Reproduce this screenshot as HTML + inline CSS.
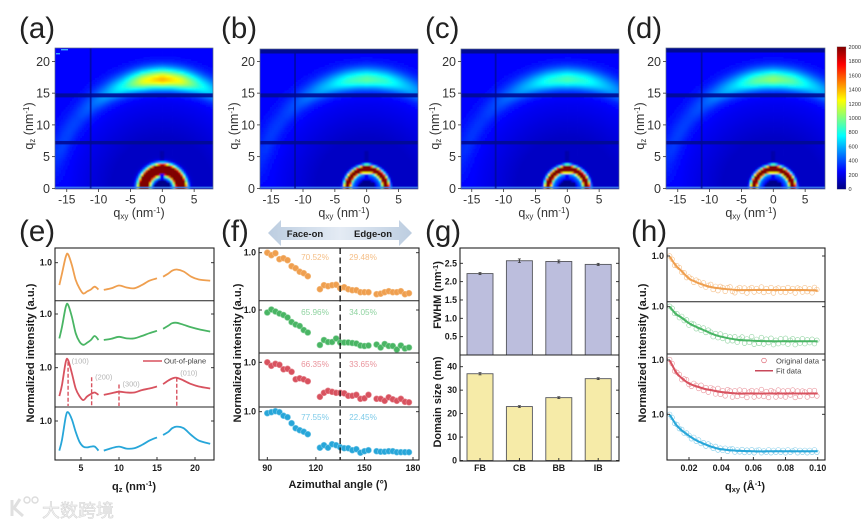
<!DOCTYPE html>
<html lang="en">
<head>
<meta charset="utf-8">
<title>GIWAXS multi-panel figure</title>
<style>
html,body{margin:0;padding:0;background:#fff;width:865px;height:525px;overflow:hidden}
svg{display:block;font-family:"Liberation Sans","Noto Sans CJK SC",sans-serif;filter:blur(.3px)}
.bl{font-weight:700;fill:#1c1c1c}
.rg{fill:#333}
.let{font-size:29.5px;fill:#222}
</style>
</head>
<body>
<svg id="fig" width="865" height="525" viewBox="0 0 865 525" xmlns="http://www.w3.org/2000/svg">
<defs>
<filter id="soft" x="-5%" y="-5%" width="110%" height="110%"><feGaussianBlur stdDeviation="0.8"/></filter>
<linearGradient id="cbar" x1="0" y1="1" x2="0" y2="0">
<stop offset="0" stop-color="#00007f"/><stop offset=".125" stop-color="#0000ff"/><stop offset=".375" stop-color="#00ffff"/><stop offset=".625" stop-color="#ffff00"/><stop offset=".875" stop-color="#ff0000"/><stop offset="1" stop-color="#7f0000"/>
</linearGradient>
<linearGradient id="arrowfill" x1="0" y1="0" x2="1" y2="0">
<stop offset="0" stop-color="#bccde0"/><stop offset=".5" stop-color="#e4ebf4"/><stop offset="1" stop-color="#bccde0"/>
</linearGradient>
<clipPath id="clip-a"><rect x="55" y="48" width="158" height="141"/></clipPath>
<clipPath id="clip-b"><rect x="260" y="49" width="158" height="140"/></clipPath>
<clipPath id="clip-c"><rect x="461" y="49" width="158" height="140"/></clipPath>
<clipPath id="clip-d"><rect x="666" y="48" width="159" height="141"/></clipPath>
</defs>
<g id="plot-layer"></g>

<g>
<text class="let" x="19" y="38">(a)</text>
<text class="let" x="221" y="38">(b)</text>
<text class="let" x="425" y="38">(c)</text>
<text class="let" x="626" y="38">(d)</text>
<text class="let" x="19" y="241">(e)</text>
<text class="let" x="221" y="241">(f)</text>
<text class="let" x="425" y="241">(g)</text>
<text class="let" x="631" y="241">(h)</text>
</g>

<g class="rg" font-size="12.5" text-anchor="middle">
<text x="139" y="217">q<tspan font-size="8" dy="2">xy</tspan><tspan dy="-2"> (nm</tspan><tspan font-size="8" dy="-4">-1</tspan><tspan dy="4">)</tspan></text>
<text x="344" y="217">q<tspan font-size="8" dy="2">xy</tspan><tspan dy="-2"> (nm</tspan><tspan font-size="8" dy="-4">-1</tspan><tspan dy="4">)</tspan></text>
<text x="544" y="217">q<tspan font-size="8" dy="2">xy</tspan><tspan dy="-2"> (nm</tspan><tspan font-size="8" dy="-4">-1</tspan><tspan dy="4">)</tspan></text>
<text x="751" y="217">q<tspan font-size="8" dy="2">xy</tspan><tspan dy="-2"> (nm</tspan><tspan font-size="8" dy="-4">-1</tspan><tspan dy="4">)</tspan></text>
<text transform="translate(33,126) rotate(-90)">q<tspan font-size="8" dy="2">z</tspan><tspan dy="-2"> (nm</tspan><tspan font-size="8" dy="-4">-1</tspan><tspan dy="4">)</tspan></text>
<text transform="translate(238,126) rotate(-90)">q<tspan font-size="8" dy="2">z</tspan><tspan dy="-2"> (nm</tspan><tspan font-size="8" dy="-4">-1</tspan><tspan dy="4">)</tspan></text>
<text transform="translate(439,126) rotate(-90)">q<tspan font-size="8" dy="2">z</tspan><tspan dy="-2"> (nm</tspan><tspan font-size="8" dy="-4">-1</tspan><tspan dy="4">)</tspan></text>
<text transform="translate(644,126) rotate(-90)">q<tspan font-size="8" dy="2">z</tspan><tspan dy="-2"> (nm</tspan><tspan font-size="8" dy="-4">-1</tspan><tspan dy="4">)</tspan></text>
</g>

<g class="bl" font-size="11" text-anchor="middle">
<text transform="translate(34,353) rotate(-90)" textLength="139" lengthAdjust="spacingAndGlyphs">Normalized intensity (a.u.)</text>
<text transform="translate(241,353) rotate(-90)" textLength="139" lengthAdjust="spacingAndGlyphs">Normalized intensity (a.u.)</text>
<text transform="translate(646,353) rotate(-90)" textLength="139" lengthAdjust="spacingAndGlyphs">Normalized intensity (a.u.)</text>
<text transform="translate(441,295) rotate(-90)">FWHM (nm<tspan font-size="7.5" dy="-3">-1</tspan><tspan dy="3">)</tspan></text>
<text transform="translate(441,402) rotate(-90)">Domain size (nm)</text>
<text x="134" y="490">q<tspan font-size="7.5" dy="2">z</tspan><tspan dy="-2"> (nm</tspan><tspan font-size="7.5" dy="-4">-1</tspan><tspan dy="4">)</tspan></text>
<text x="338" y="488">Azimuthal angle (°)</text>
<text x="745" y="490">q<tspan font-size="7.5" dy="2">xy</tspan><tspan dy="-2"> (Å</tspan><tspan font-size="7.5" dy="-4">-1</tspan><tspan dy="4">)</tspan></text>
</g>

<g>
<polygon points="268,233 281,220 281,227 399,227 399,220 412,233 399,246 399,240 281,240 281,246" fill="url(#arrowfill)"/>
<text class="bl" x="305" y="237" font-size="9.5" text-anchor="middle">Face-on</text>
<text class="bl" x="373" y="237" font-size="9.5" text-anchor="middle">Edge-on</text>
</g>

<g>
<line x1="143" y1="361" x2="162" y2="361" stroke="#d9505f" stroke-width="1.4"/>
<text x="164" y="363.5" font-size="7.6" fill="#444">Out-of-plane</text>
</g>
<g>
<circle cx="764" cy="360.5" r="2.3" fill="none" stroke="#d9505f" stroke-width=".6"/>
<text x="776" y="363.5" font-size="7.6" fill="#444">Original data</text>
<line x1="755" y1="370.7" x2="773" y2="370.7" stroke="#c8485a" stroke-width="1.5"/>
<text x="776" y="373.5" font-size="7.6" fill="#444">Fit data</text>
</g>

<g>
<path d="M12 500 V516 M20 499 L14 508 L23 516" fill="none" stroke="#e0e0e0" stroke-width="3"/>
<circle cx="27" cy="500" r="3" fill="none" stroke="#dcdcdc" stroke-width="1.4"/>
<circle cx="35" cy="500" r="3" fill="none" stroke="#dcdcdc" stroke-width="1.4"/>
<text x="42" y="517" font-size="18" fill="#f2f2f2" stroke="#d2d2d2" stroke-width=".5" font-family="'Liberation Sans','Noto Sans CJK SC',sans-serif">大数跨境</text>
</g>
</svg>

<script>
// ---------- heatmap data (a-d) ----------
var heatPanels = ['a', 'b', 'c', 'd'];
var heatChi = [0, 10, 20, 30, 40, 50, 60, 70, 80, 90];
var arcA = [1150, 960, 560, 330, 200, 130, 130, 120, 60, 0];
var arcB = [680, 590, 400, 260, 160, 110, 110, 100, 60, 0];
var arcC = [640, 550, 380, 240, 150, 100, 100, 90, 50, 0];
var arcD = [780, 670, 440, 280, 170, 120, 120, 105, 60, 0];
var ringPeak = [4000, 3000, 3000, 3000];
var ringRadius = [2.95, 3.05, 3.05, 3.05];
var ringWidth = [0.55, 0.35, 0.35, 0.35];
var heatXTicks = [-15, -10, -5, 0, 5];
var heatYTicks = [0, 5, 10, 15, 20];
var gapQz = [14.65, 7.2];
var gapQxy = [-11.25];
var colorbarTicks = [0, 200, 400, 600, 800, 1000, 1200, 1400, 1600, 1800, 2000];

// ---------- panel e ----------
var qE = [2.15, 2.5, 3, 3.3, 3.8, 4.3, 4.8, 5.3, 5.8, 6.3, 6.8, 7.3, null, 8, 9, 10, 11, 12, 13, 14, 15, null, 15.8, 16.5, 17, 17.6, 18.5, 19.5, 20.5, 22];
var intensityE1 = [.44, .73, 1.15, 1.21, .94, .57, .36, .23, .28, .33, .40, .33, null, .32, .36, .43, .38, .36, .44, .55, .61, null, .65, .73, .80, .83, .78, .65, .58, .55];
var intensityE2 = [.39, .68, 1.18, 1.23, .93, .52, .31, .23, .28, .35, .45, .35, null, .35, .38, .43, .39, .39, .45, .52, .58, null, .63, .71, .77, .78, .73, .67, .62, .56];
var intensityE3 = [.29, .57, 1.15, 1.19, .86, .48, .29, .19, .28, .34, .38, .32, null, .32, .36, .40, .38, .38, .44, .48, .53, null, .59, .68, .73, .75, .68, .59, .53, .48];
var intensityE4 = [.26, .53, 1.11, 1.22, 1.04, .73, .48, .36, .34, .36, .36, .26, null, .26, .32, .36, .31, .32, .40, .51, .59, null, .65, .73, .82, .86, .82, .65, .51, .43];
var xTicksE = [5, 10, 15, 20];
var peakQ = [3.3, 6.4, 10, 17.6];
var peakTop = [1.15, .76, .58, .75];
var peakLabels = ['(100)', '(200)', '(300)', '(010)'];

// ---------- panel f ----------
var angleSeg1 = [90, 92.5, 95, 97.5, 100, 102.5, 105, 107.5, 110, 112.5, 115];
var angleSeg2 = [122.5, 125, 127.5, 130, 132.5, 135, 137.5, 140, 142.5, 145, 147.5, 150, 152.5];
var angleSeg3 = [157.5, 160, 162.5, 165, 167.5, 170, 172.5, 175, 177.5];
var azimuthF1 = [1, .95, .99, .87, .89, .85, .73, .69, .62, .59, .53, .27, .35, .33, .35, .36, .29, .31, .27, .25, .25, .21, .21, .21, .17, .18, .21, .23, .21, .21, .23, .17, .19];
var azimuthF2 = [.95, 1.01, .97, .93, .90, .85, .76, .71, .68, .60, .55, .30, .40, .36, .36, .43, .35, .35, .35, .34, .33, .29, .28, .29, .31, .25, .32, .28, .28, .21, .29, .23, .25];
var azimuthF3 = [1, .93, .97, .95, .86, .87, .81, .66, .68, .66, .62, .31, .39, .43, .41, .39, .39, .38, .33, .33, .35, .27, .28, .35, .27, .27, .23, .30, .26, .23, .27, .21, .20];
var azimuthF4 = [.97, .99, 1.01, .99, .92, .89, .77, .67, .63, .60, .55, .28, .33, .28, .35, .33, .29, .27, .27, .23, .25, .18, .21, .23, .21, .20, .20, .21, .21, .19, .19, .19, .19];
var xTicksF = [90, 120, 150, 180];
var faceOnPct = ['70.52%', '65.96%', '66.35%', '77.55%'];
var edgeOnPct = ['29.48%', '34.05%', '33.65%', '22.45%'];

// ---------- panel g ----------
var solvents = ['FB', 'CB', 'BB', 'IB'];
var fwhmValues = [2.22, 2.57, 2.55, 2.47];
var fwhmErrors = [0.03, 0.05, 0.04, 0.03];
var domainValues = [37, 23, 26.8, 34.9];
var domainErrors = [0.5, 0.4, 0.4, 0.4];
var fwhmTicks = [0.5, 1.0, 1.5, 2.0, 2.5];
var domainTicks = [0, 10, 20, 30, 40];

// ---------- panel h ----------
var qFit = [.008, .01, .012, .015, .02, .025, .03, .035, .04, .05, .06, .07, .08, .09, .10];
var fitH1 = [.99, .89, .80, .71, .55, .47, .41, .37, .35, .32, .32, .32, .32, .32, .31];
var fitH2 = [1, .92, .85, .79, .67, .59, .52, .45, .40, .34, .32, .31, .31, .31, .31];
var fitH3 = [.99, .87, .75, .65, .53, .47, .42, .39, .36, .33, .33, .33, .33, .33, .33];
var fitH4 = [.99, .89, .79, .69, .57, .47, .40, .34, .30, .27, .26, .26, .26, .26, .26];
var residualH1 = [.01,.02,-.03,.02,.03,-.02,.02,-.03,.03,.02,-.03,.04,.03,-.02,.04,-.03,.02,.05,-.04,.03,-.05,.04,.02,-.05,.03,.05,-.04,-.06,.02,.05,-.03,.04,-.06,.02,.05,-.04,.03,-.02,.06,-.05,.03,-.03,.05,-.06,.02,.04,-.04,.03,-.05,.05,-.02,.03,-.06,.04,.02,-.04,.05,-.03,.03,-.05,.06,.02];
var residualH2 = [.01,.03,-.02,.02,-.03,.03,-.02,.03,-.04,.02,.03,-.04,.02,-.03,.04,-.03,.04,.02,-.05,.03,-.04,.05,-.03,.04,-.06,.03,-.04,.05,-.05,.02,.06,-.06,.03,-.04,.08,-.07,.03,-.05,.07,-.06,.04,-.03,.06,-.07,.02,-.05,.05,-.03,.06,-.06,.02,.05,-.07,.03,-.04,.05,-.05,.03,-.03,.04,-.05,.02];
var residualH3 = [.02,.03,-.03,.02,.03,-.03,.02,.04,-.02,-.04,.04,.02,-.03,.05,-.04,.03,-.05,.05,.03,-.06,.06,-.05,.03,-.07,.06,.04,-.08,.05,-.06,.07,-.04,.06,-.08,.03,.06,-.07,.05,-.05,.08,-.06,.04,-.08,.06,.03,-.07,.07,-.05,.05,-.07,.06,-.03,.07,-.08,.05,-.06,.05,.03,-.07,.06,-.04,.06,-.05];
var residualH4 = [.01,.02,-.02,.02,-.01,.02,-.02,.02,.01,-.03,.03,-.02,.03,-.02,.02,-.03,.03,.01,-.02,.03,-.03,.02,-.02,.03,-.03,.02,.03,-.03,.02,-.02,.03,-.03,.02,-.02,.03,-.03,.02,.03,-.03,.01,-.02,.03,-.03,.02,-.02,.03,-.02,.02,-.03,.03,-.02,.01,.03,-.03,.02,-.02,.02,-.03,.02,-.02,.03,-.02];
var xTicksH = [.02, .04, .06, .08, .10];
var origStart = .008;
var origStep = .0015;

// ---------- helpers ----------
var SVG_NS = 'http://www.w3.org/2000/svg';
var layer = document.getElementById('plot-layer');
function make(tag, name, attrs, parent) {
  var node = document.createElementNS(SVG_NS, tag);
  for (var k in attrs) node.setAttribute(k, attrs[k]);
  
  
  (parent || layer).appendChild(node);
  return node;
}
function label(name, str, x, y, size, anchor, cls, parent, fill) {
  var attrs = {x: x, y: y, 'font-size': size, 'text-anchor': anchor};
  if (cls) attrs['class'] = cls;
  if (fill) attrs.fill = fill;
  var t = make('text', name, attrs, parent);
  t.textContent = str;
  return t;
}
function linear(d0, d1, r0, r1) {
  return function (v) { return r0 + (v - d0) * (r1 - r0) / (d1 - d0); };
}
function clamp01(v) { return Math.max(0, Math.min(1, v)); }
function jet(t) {
  var r = clamp01(1.5 - Math.abs(4 * t - 3));
  var g = clamp01(1.5 - Math.abs(4 * t - 2));
  var b = clamp01(1.5 - Math.abs(4 * t - 1));
  return 'rgb(' + Math.round(r * 255) + ',' + Math.round(g * 255) + ',' + Math.round(b * 255) + ')';
}
function interp(xs, ys, x) {
  if (x <= xs[0]) return ys[0];
  for (var i = 1; i < xs.length; i++) {
    if (x <= xs[i]) return ys[i - 1] + (ys[i] - ys[i - 1]) * (x - xs[i - 1]) / (xs[i] - xs[i - 1]);
  }
  return ys[ys.length - 1];
}
function smoothPath(pts) {
  var d = 'M' + pts[0][0].toFixed(2) + ' ' + pts[0][1].toFixed(2);
  for (var i = 0; i < pts.length - 1; i++) {
    var p0 = pts[Math.max(0, i - 1)], p1 = pts[i], p2 = pts[i + 1], p3 = pts[Math.min(pts.length - 1, i + 2)];
    d += ' C' + (p1[0] + (p2[0] - p0[0]) / 6).toFixed(2) + ' ' + (p1[1] + (p2[1] - p0[1]) / 6).toFixed(2) +
         ' ' + (p2[0] - (p3[0] - p1[0]) / 6).toFixed(2) + ' ' + (p2[1] - (p3[1] - p1[1]) / 6).toFixed(2) +
         ' ' + p2[0].toFixed(2) + ' ' + p2[1].toFixed(2);
  }
  return d;
}

// ---------- heatmaps ----------
var heatFrames = [
  {x0: 55, x1: 213, y0: 48, y1: 189, zeroX: 162.3},
  {x0: 260, x1: 418, y0: 49, y1: 189, zeroX: 366.7},
  {x0: 461, x1: 619, y0: 49, y1: 189, zeroX: 567.3},
  {x0: 666, x1: 825, y0: 48, y1: 189, zeroX: 773.3}
];
var arcProfiles = [arcA, arcB, arcC, arcD];
var pxPerQ = 6.37;
function intensityAt(qx, qz, p) {
  var r = Math.sqrt(qx * qx + qz * qz);
  var chi = Math.atan2(Math.abs(qx), Math.max(qz, 0.001)) * 180 / Math.PI;
  var base = 135 + 115 * clamp01((r - 8) / 7);
  var arcAmp = interp(heatChi, arcProfiles[p], chi);
  var sigma = r < 17.1 ? 1.0 : 1.25;
  var val = base + arcAmp * Math.exp(-Math.pow(r - 17.1, 2) / (2 * sigma * sigma));
  var w = ringWidth[p];
  val += ringPeak[p] * Math.exp(-Math.pow(r - ringRadius[p], 2) / (2 * w * w));
  val += 2200 * Math.exp(-(qx * qx + Math.pow(qz - 3.1, 2)) / 0.25);
  if (r < 2.7) val += 240 * Math.exp(-Math.pow(r - 2, 2) / 0.3);
  if (Math.abs(qx) < 0.3 && qz > 1.4 && qz < 2.2) val = Math.min(val, 240);
  if (Math.abs(qx) < 1.2 && qz < 1.3 - 0.4 * qx * qx) val = 20;
  if (Math.abs(qx) < 0.4 && qz > 4.3 && qz < 6) val *= 0.6;
  return val;
}
heatPanels.forEach(function (panel, p) {
  var fr = heatFrames[p];
  var sx = function (q) { return fr.zeroX + q * pxPerQ; };
  var sy = linear(0, 20, 188.4, 61.4);
  var clipG = make('g', 'heatmap-' + panel, {'clip-path': 'url(#clip-' + panel + ')'});
  var cellG = make('g', 'heatmap-cells-' + panel, {filter: 'url(#soft)'}, clipG);
  var step = 0.33;
  var size = step * pxPerQ + 0.4;
  for (var qz = -0.7; qz < 22.8; qz += step) {
    for (var qx = -17.2; qx < 9; qx += step) {
      var val = intensityAt(qx + step / 2, qz + step / 2, p);
      var cell = document.createElementNS(SVG_NS, 'rect');
      cell.setAttribute('x', sx(qx).toFixed(2));
      cell.setAttribute('y', (sy(qz) - size).toFixed(2));
      cell.setAttribute('width', size.toFixed(2));
      cell.setAttribute('height', size.toFixed(2));
      cell.setAttribute('fill', jet(Math.min(1, val / 2000)));
      
      
      cellG.appendChild(cell);
    }
  }
  make('rect', 'horizon-line-' + panel, {x: fr.x0, y: sy(0.28), width: fr.x1 - fr.x0, height: 1.6, fill: '#3f86ee', opacity: .85}, clipG);
  gapQz.forEach(function (gq, i) {
    make('rect', 'detector-gap-h-' + panel + '-' + i, {x: fr.x0, y: sy(gq) - (i === 0 ? 2 : 1.7), width: fr.x1 - fr.x0, height: i === 0 ? 4 : 3.4, fill: '#000a92', opacity: .9}, clipG);
  });
  gapQxy.forEach(function (gq, i) {
    make('rect', 'detector-gap-v-' + panel + '-' + i, {x: sx(gq) - 0.9, y: fr.y0, width: 1.8, height: fr.y1 - fr.y0, fill: '#000a92', opacity: .75}, clipG);
  });
  if (p > 0) {
    make('rect', 'detector-top-band-' + panel, {x: fr.x0, y: fr.y0, width: fr.x1 - fr.x0, height: 4.5, fill: '#000a92'}, clipG);
  } else {
    make('rect', 'detector-speck-top', {x: 61, y: 49, width: 7, height: 1.4, fill: '#38a4ff'}, clipG);
    make('rect', 'detector-speck-left', {x: 56, y: 53, width: 4, height: 1.4, fill: '#38a4ff'}, clipG);
  }
  make('rect', 'heatmap-frame-' + panel, {x: fr.x0, y: fr.y0, width: fr.x1 - fr.x0, height: fr.y1 - fr.y0, fill: 'none', stroke: '#5b6a86', 'stroke-width': .7});
  heatXTicks.forEach(function (t) {
    make('line', 'x-tick-' + panel, {x1: sx(t), x2: sx(t), y1: fr.y1, y2: fr.y1 + 3, stroke: '#333', 'stroke-width': .8});
    label('x-tick-label-' + panel, String(t), sx(t), 203.5, 12, 'middle', 'rg');
  });
  heatYTicks.forEach(function (t) {
    make('line', 'y-tick-' + panel, {x1: fr.x0 - 3, x2: fr.x0, y1: sy(t), y2: sy(t), stroke: '#333', 'stroke-width': .8});
    label('y-tick-label-' + panel, String(t), fr.x0 - 5, sy(t) + 4.5, 12.5, 'end', 'rg');
  });
});

// colorbar
make('rect', 'colorbar', {x: 837, y: 46.7, width: 9, height: 142.6, fill: 'url(#cbar)', stroke: '#999', 'stroke-width': .3});
var cbScale = linear(0, 2000, 189, 47);
colorbarTicks.forEach(function (t) {
  label('colorbar-tick-label', String(t), 848.5, cbScale(t) + 2, 5.6, 'start', 'rg');
});

// ---------- stacked frame helper ----------
function drawStack(panel, x0, x1, y0, y1, seps) {
  seps.forEach(function (s, i) {
    make('line', 'subplot-divider-' + panel + '-' + i, {x1: x0, x2: x1, y1: s, y2: s, stroke: '#222', 'stroke-width': 1});
  });
  make('rect', 'axes-frame-' + panel, {x: x0, y: y0, width: x1 - x0, height: y1 - y0, fill: 'none', stroke: '#222', 'stroke-width': 1.1});
}
function drawXTicks(panel, ticks, sx, yb, fmt) {
  ticks.forEach(function (t) {
    make('line', 'x-tick-' + panel, {x1: sx(t), x2: sx(t), y1: yb, y2: yb - 3, stroke: '#222', 'stroke-width': .9});
    label('x-tick-label-' + panel, fmt(t), sx(t), 471, 8.8, 'middle', 'bl');
  });
}
function drawOneTick(panel, x0, x1, y) {
  make('line', 'y-tick-left-' + panel, {x1: x0, x2: x0 + 3, y1: y, y2: y, stroke: '#222', 'stroke-width': .9});
  make('line', 'y-tick-right-' + panel, {x1: x1, x2: x1 - 3, y1: y, y2: y, stroke: '#222', 'stroke-width': .9});
  label('y-tick-label-' + panel, '1.0', x0 - 3, y + 3, 8.8, 'end', 'bl');
}

var lineColors = ['#ef9f4f', '#49b564', '#d8525f', '#27a6d9'];
var lightColors = ['#f5bf87', '#8fd3a0', '#e9949c', '#7fcbe9'];

// ---------- panel e ----------
var eFrame = {x0: 55, x1: 214, y0: 248, y1: 460};
var xE = linear(0, 20, 43, 195);
var eTickY = [262.7, 314, 367.7, 421];
var eSeries = [intensityE1, intensityE2, intensityE3, intensityE4];
var eScales = eTickY.map(function (ty) { return linear(1, 0, ty, ty + 40); });
eSeries.forEach(function (vals, s) {
  var seg = [];
  var part = 0;
  function flush() {
    if (seg.length > 1) {
      make('path', 'curve-e-' + s + '-segment-' + part, {d: smoothPath(seg), fill: 'none', stroke: lineColors[s], 'stroke-width': 1.8, 'stroke-linejoin': 'round'});
    }
    seg = [];
    part++;
  }
  vals.forEach(function (v, i) {
    if (v === null) { flush(); return; }
    seg.push([xE(qE[i]), eScales[s](v)]);
  });
  flush();
  drawOneTick('e', eFrame.x0, eFrame.x1, eTickY[s]);
});
peakQ.forEach(function (q, i) {
  var x = xE(q);
  make('line', 'peak-marker-' + i, {x1: x, x2: x, y1: eScales[2](peakTop[i]), y2: 406, stroke: '#d8525f', 'stroke-width': 1.4, 'stroke-dasharray': '4 2'});
  label('peak-label-' + i, peakLabels[i], x + 3.5, eScales[2](peakTop[i]) + (i === 3 ? -2 : 2), 7.4, 'start', null, null, '#b5b5b5');
});
drawStack('e', eFrame.x0, eFrame.x1, eFrame.y0, eFrame.y1, [300.7, 354, 407]);
drawXTicks('e', xTicksE, xE, eFrame.y1, function (t) { return String(t); });

// ---------- panel f ----------
var fFrame = {x0: 259, x1: 419, y0: 248, y1: 460};
var xF = linear(90, 180, 267.3, 413);
var fTickY = [252.7, 310, 362.3, 411.7];
var fSeries = [azimuthF1, azimuthF2, azimuthF3, azimuthF4];
var anglesF = angleSeg1.concat(angleSeg2, angleSeg3);
var pctY = [257, 312, 364, 417];
fSeries.forEach(function (vals, s) {
  var yF = linear(1, 0, fTickY[s], fTickY[s] + 50);
  var g = make('g', 'series-f-' + s, {});
  vals.forEach(function (v, i) {
    make('circle', 'point-f', {cx: xF(anglesF[i]), cy: yF(v), r: 3, fill: lineColors[s], stroke: lightColors[s], 'stroke-width': .6}, g);
  });
  drawOneTick('f', fFrame.x0, fFrame.x1, fTickY[s]);
  label('face-on-percent-' + s, faceOnPct[s], 315, pctY[s] + 3, 8.2, 'middle', null, null, lightColors[s]);
  label('edge-on-percent-' + s, edgeOnPct[s], 363, pctY[s] + 3, 8.2, 'middle', null, null, lightColors[s]);
});
drawStack('f', fFrame.x0, fFrame.x1, fFrame.y0, fFrame.y1, [300.7, 353, 407]);
make('line', 'divider-135-degrees', {x1: xF(135), x2: xF(135), y1: 248, y2: 460, stroke: '#111', 'stroke-width': 1.3, 'stroke-dasharray': '6 3.5'});
drawXTicks('f', xTicksF, xF, fFrame.y1, function (t) { return String(t); });

// ---------- panel g ----------
var gFrame = {x0: 460, x1: 619, y0: 248, y1: 461, split: 355};
var xG = function (i) { return 480 + i * 39.4; };
var barW = 26;
var yFwhm = linear(0, 2.5, 355, 263.3);
var yDomain = linear(0, 40, 460.5, 366.7);
function drawBars(values, errors, sy, base, fill, prefix) {
  values.forEach(function (v, i) {
    make('rect', prefix + '-bar-' + solvents[i], {x: xG(i) - barW / 2, y: sy(v), width: barW, height: base - sy(v), fill: fill, stroke: '#55565c', 'stroke-width': .9});
    make('line', prefix + '-error-bar-' + solvents[i], {x1: xG(i), x2: xG(i), y1: sy(v + errors[i]), y2: sy(v - errors[i]), stroke: '#333', 'stroke-width': .9});
    make('line', prefix + '-error-cap-top-' + solvents[i], {x1: xG(i) - 1.5, x2: xG(i) + 1.5, y1: sy(v + errors[i]), y2: sy(v + errors[i]), stroke: '#333', 'stroke-width': .7});
    make('line', prefix + '-error-cap-bottom-' + solvents[i], {x1: xG(i) - 1.5, x2: xG(i) + 1.5, y1: sy(v - errors[i]), y2: sy(v - errors[i]), stroke: '#333', 'stroke-width': .7});
  });
}
drawBars(fwhmValues, fwhmErrors, yFwhm, gFrame.split, '#bcbedd', 'fwhm');
drawBars(domainValues, domainErrors, yDomain, 460.5, '#f6eba8', 'domain');
make('line', 'subplot-divider-g', {x1: gFrame.x0, x2: gFrame.x1, y1: gFrame.split, y2: gFrame.split, stroke: '#222', 'stroke-width': 1});
make('rect', 'axes-frame-g', {x: gFrame.x0, y: gFrame.y0, width: gFrame.x1 - gFrame.x0, height: gFrame.y1 - gFrame.y0, fill: 'none', stroke: '#222', 'stroke-width': 1.1});
fwhmTicks.forEach(function (t) {
  make('line', 'y-tick-fwhm', {x1: gFrame.x1, x2: gFrame.x1 - 3, y1: yFwhm(t), y2: yFwhm(t), stroke: '#222', 'stroke-width': .9});
  make('line', 'y-tick-fwhm-left', {x1: gFrame.x0, x2: gFrame.x0 + 3, y1: yFwhm(t), y2: yFwhm(t), stroke: '#222', 'stroke-width': .9});
  label('y-tick-label-fwhm', t.toFixed(1), gFrame.x0 - 3, yFwhm(t) + 3, 8.8, 'end', 'bl');
});
domainTicks.forEach(function (t) {
  make('line', 'y-tick-domain', {x1: gFrame.x1, x2: gFrame.x1 - 3, y1: yDomain(t), y2: yDomain(t), stroke: '#222', 'stroke-width': .9});
  make('line', 'y-tick-domain-left', {x1: gFrame.x0, x2: gFrame.x0 + 3, y1: yDomain(t), y2: yDomain(t), stroke: '#222', 'stroke-width': .9});
  label('y-tick-label-domain', String(t), gFrame.x0 - 3, yDomain(t) + 3, 8.8, 'end', 'bl');
});
solvents.forEach(function (s, i) {
  make('line', 'x-tick-g', {x1: xG(i), x2: xG(i), y1: gFrame.y1, y2: gFrame.y1 - 3, stroke: '#222', 'stroke-width': .9});
  label('x-tick-label-g', s, xG(i), 471, 8.8, 'middle', 'bl');
});

// ---------- panel h ----------
var hFrame = {x0: 667, x1: 825, y0: 248, y1: 460};
var xH = linear(.02, .10, 689, 817.7);
var hTickY = [256, 306.7, 360, 414.3];
var fitSeries = [fitH1, fitH2, fitH3, fitH4];
var residualSeries = [residualH1, residualH2, residualH3, residualH4];
fitSeries.forEach(function (fit, s) {
  var yH = linear(1, 0, hTickY[s], hTickY[s] + 50);
  var g = make('g', 'series-h-' + s + '-original', {});
  residualSeries[s].forEach(function (res, i) {
    var q = origStart + i * origStep;
    make('circle', 'point-h-original', {cx: xH(q), cy: yH(interp(qFit, fit, q) + res), r: 2.3, fill: 'none', stroke: lightColors[s], 'stroke-width': .6}, g);
  });
  var pts = fit.map(function (v, i) { return [xH(qFit[i]), yH(v)]; });
  make('path', 'fit-line-h-' + s, {d: smoothPath(pts), fill: 'none', stroke: lineColors[s], 'stroke-width': 2});
  drawOneTick('h', hFrame.x0, hFrame.x1, hTickY[s]);
});
drawStack('h', hFrame.x0, hFrame.x1, hFrame.y0, hFrame.y1, [301.7, 354, 407]);
drawXTicks('h', xTicksH, xH, hFrame.y1, function (t) { return t.toFixed(2); });
</script>
</body>
</html>
